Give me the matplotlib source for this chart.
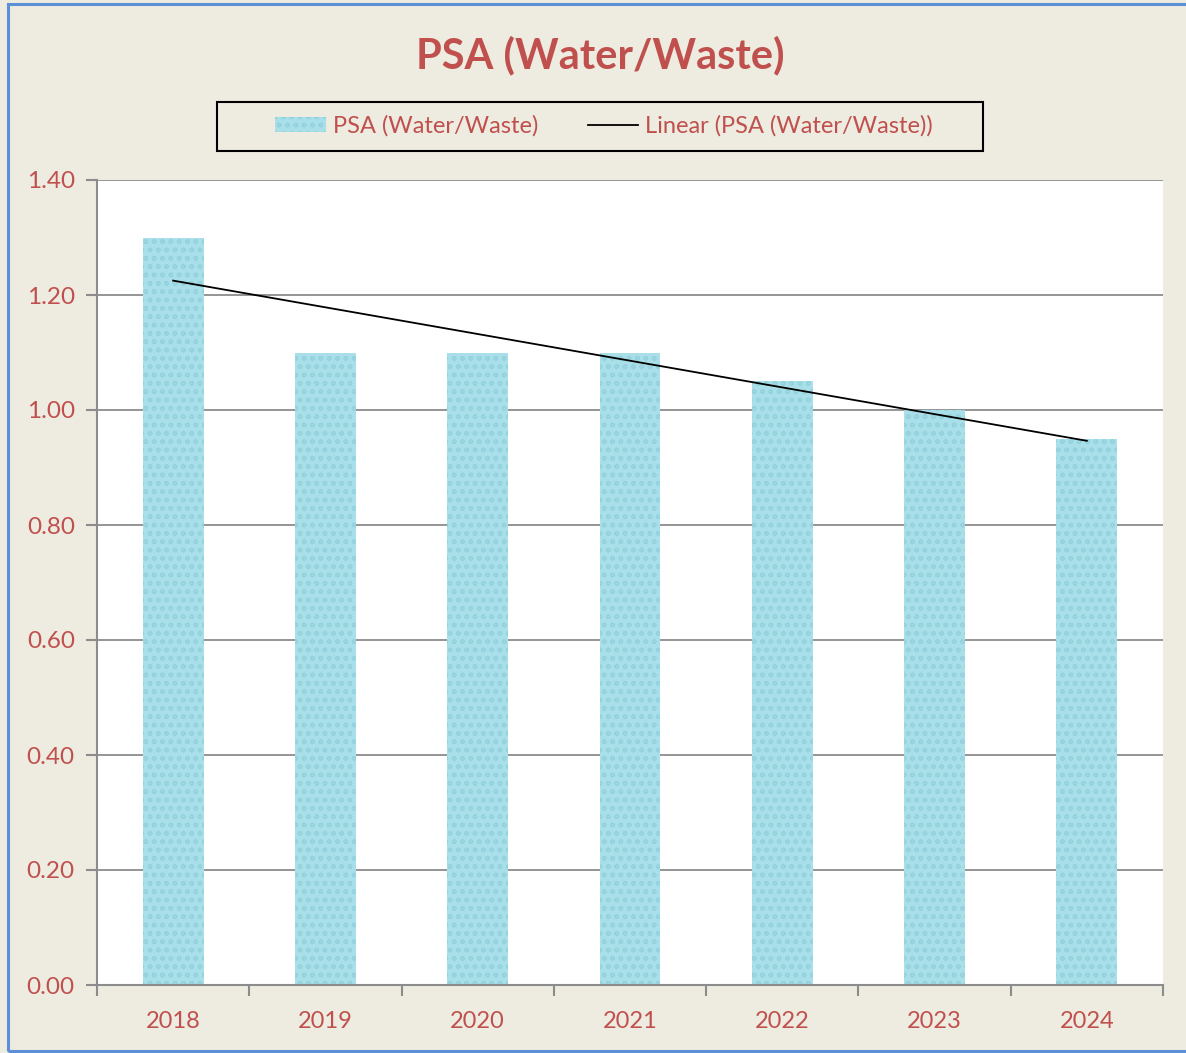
import numpy as np
import matplotlib.pyplot as plt
from matplotlib.patches import Rectangle

# data
years = ["2018", "2019", "2020", "2021", "2022", "2023", "2024"]
psa_values = [1.30, 1.10, 1.10, 1.10, 1.05, 1.00, 0.95]
y_ticks = [0.00, 0.20, 0.40, 0.60, 0.80, 1.00, 1.20, 1.40]

RED = "#C0504D"
BG = "#EEEBE0"
BAR = "#A9DFE8"
W, H = 1186, 1053

plt.rcParams["font.family"] = ["Lato", "DejaVu Sans"]

fig = plt.figure(figsize=(W / 100, H / 100), dpi=100, facecolor=BG)
ax = fig.add_axes([97 / W, 1 - 985 / H, (1163 - 97) / W, (985 - 180) / H])
ax.set_facecolor("white")

x = np.arange(len(years))
bars = ax.bar(x, psa_values, width=0.4, color=BAR, edgecolor="#94D2DE",
              linewidth=0, hatch="oo", zorder=2, label="PSA (Water/Waste)")

# linear trend line
slope, intercept = np.polyfit(x, psa_values, 1)
trend, = ax.plot(x, slope * x + intercept, color="black", linewidth=1.3, zorder=3,
                 label="Linear (PSA (Water/Waste))")

ax.set_xlim(-0.5, len(years) - 0.5)
ax.set_ylim(0, 1.4)
ax.set_yticks(y_ticks)
ax.set_yticklabels([f"{v:.2f}" for v in y_ticks])
ax.set_xticks(x)
ax.set_xticklabels(years)
ax.set_xticks(np.arange(-0.5, len(years)), minor=True)
ax.tick_params(axis="x", which="major", length=0, pad=19, labelcolor=RED, labelsize=17)
ax.tick_params(axis="x", which="minor", length=8, color="#8C8C8C", width=1.5)
ax.tick_params(axis="y", length=8, color="#8C8C8C", width=1.5, pad=8,
               labelcolor=RED, labelsize=17.5)
ax.yaxis.grid(True, color="#8C8C8C", linewidth=1.3, zorder=0)
ax.set_axisbelow(True)
for side in ["top", "right"]:
    ax.spines[side].set_visible(False)
for side in ["left", "bottom"]:
    ax.spines[side].set_color("#8C8C8C")
    ax.spines[side].set_linewidth(1.5)

fig.text(600 / W, 1 - 55 / H, "PSA (Water/Waste)", color=RED, fontsize=30,
         fontweight="bold", ha="center", va="center")

leg = fig.legend([bars, trend], ["PSA (Water/Waste)", "Linear (PSA (Water/Waste))"],
                 loc="center", bbox_to_anchor=(604 / W, 1 - 126 / H), ncol=2,
                 frameon=False, fontsize=17, handlelength=2.15,
                 handleheight=0.6, columnspacing=2.1, borderpad=0.3,
                 handletextpad=0.3, borderaxespad=0)
for t in leg.get_texts():
    t.set_color(RED)

# legend box drawn separately (wider padding than the legend frame allows)
fig.patches.append(Rectangle((217 / W, 1 - 151 / H), (983 - 217) / W, 49 / H,
                             transform=fig.transFigure, fill=False,
                             edgecolor="black", linewidth=1.5))

# outer blue border
fig.patches.append(Rectangle((8 / W, 2 / H), 1.2, 1 - 6 / H,
                             transform=fig.transFigure, fill=False,
                             edgecolor="#5B8FD6", linewidth=2.2))

fig.savefig("out.png", dpi=100, facecolor=BG)
